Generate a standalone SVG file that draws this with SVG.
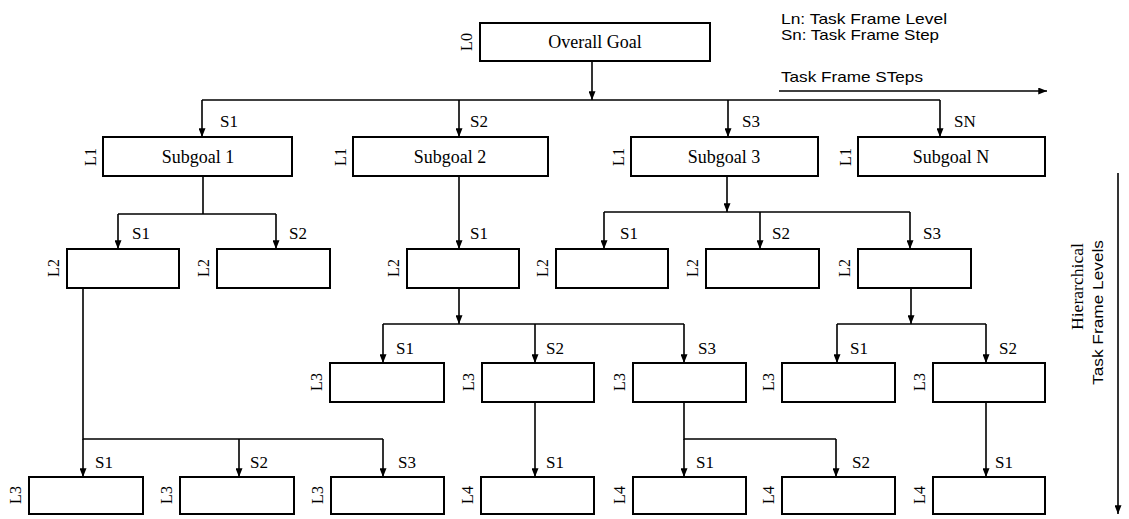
<svg xmlns="http://www.w3.org/2000/svg" width="1129" height="519" viewBox="0 0 1129 519">
<style>
.box{fill:#fff;stroke:#000;stroke-width:2}
.c{fill:none;stroke:#000;stroke-width:1.6}
.a{marker-end:url(#ah)}
.t{font-family:"Liberation Serif","Times New Roman",serif;font-size:18px;fill:#000;text-anchor:middle}
.s{font-family:"Liberation Serif","Times New Roman",serif;font-size:17px;fill:#000}
.l{font-family:"Liberation Serif","Times New Roman",serif;font-size:16px;fill:#000;text-anchor:middle}
.g{font-family:"Liberation Sans",Arial,sans-serif;font-size:15px;fill:#000}
</style>
<defs>
<marker id="ah" viewBox="0 0 10 8" refX="10" refY="4" markerWidth="9" markerHeight="7" markerUnits="userSpaceOnUse" orient="auto">
<path d="M0,0 L10,4 L0,8 z" fill="#000"/>
</marker>
</defs>
<rect width="1129" height="519" fill="#fff"/>

<g id="legend">
<text class="g" x="781" y="24" textLength="166" lengthAdjust="spacingAndGlyphs">Ln: Task Frame Level</text>
<text class="g" x="781" y="40" textLength="158" lengthAdjust="spacingAndGlyphs">Sn: Task Frame Step</text>
<text class="g" x="781" y="82" textLength="142" lengthAdjust="spacingAndGlyphs">Task Frame STeps</text>
<text class="s" transform="translate(1083,330) rotate(-90)" textLength="87" lengthAdjust="spacingAndGlyphs">Hierarchical</text>
<text class="g" transform="translate(1103,385) rotate(-90)" font-size="16" textLength="145" lengthAdjust="spacingAndGlyphs">Task Frame Levels</text>
</g>

<g id="connectors">
<path class="c a" d="M779,91 H1047"/>
<path class="c a" d="M1118,173 V514"/>
<path class="c a" d="M592,61 V100"/>
<path class="c" d="M202,100 H940"/>
<path class="c a" d="M202,100 V137"/>
<path class="c a" d="M459,100 V137"/>
<path class="c a" d="M728,100 V137"/>
<path class="c a" d="M940,100 V137"/>
<path class="c" d="M203,176 V214 M118,214 H276"/>
<path class="c a" d="M118,214 V249"/>
<path class="c a" d="M276,214 V249"/>
<path class="c a" d="M459,176 V249"/>
<path class="c a" d="M459,288 V324"/>
<path class="c" d="M383,324 H684"/>
<path class="c a" d="M383,324 V363"/>
<path class="c a" d="M535,324 V363"/>
<path class="c a" d="M684,324 V363"/>
<path class="c a" d="M727,176 V212"/>
<path class="c" d="M604,212 H910"/>
<path class="c a" d="M604,212 V249"/>
<path class="c a" d="M760,212 V249"/>
<path class="c a" d="M910,212 V249"/>
<path class="c a" d="M911,288 V324"/>
<path class="c" d="M837,324 H986"/>
<path class="c a" d="M837,324 V363"/>
<path class="c a" d="M986,324 V363"/>
<path class="c" d="M83,288 V439 H383"/>
<path class="c a" d="M83,439 V477"/>
<path class="c a" d="M239,439 V477"/>
<path class="c a" d="M383,439 V477"/>
<path class="c a" d="M535,402 V477"/>
<path class="c" d="M684,402 V439 H836"/>
<path class="c a" d="M684,439 V477"/>
<path class="c a" d="M836,439 V477"/>
<path class="c a" d="M986,402 V477"/>
</g>

<g id="step-labels">
<text class="s" x="220" y="127">S1</text>
<text class="s" x="470" y="127">S2</text>
<text class="s" x="742" y="127">S3</text>
<text class="s" x="954" y="127">SN</text>
<text class="s" x="132" y="239">S1</text>
<text class="s" x="289" y="239">S2</text>
<text class="s" x="470" y="239">S1</text>
<text class="s" x="620" y="239">S1</text>
<text class="s" x="772" y="239">S2</text>
<text class="s" x="923" y="239">S3</text>
<text class="s" x="396" y="354">S1</text>
<text class="s" x="546" y="354">S2</text>
<text class="s" x="698" y="354">S3</text>
<text class="s" x="850" y="354">S1</text>
<text class="s" x="999" y="354">S2</text>
<text class="s" x="95" y="468">S1</text>
<text class="s" x="250" y="468">S2</text>
<text class="s" x="398" y="468">S3</text>
<text class="s" x="546" y="468">S1</text>
<text class="s" x="696" y="468">S1</text>
<text class="s" x="852" y="468">S2</text>
<text class="s" x="995" y="468">S1</text>
</g>

<g id="n-overall"><rect class="box" x="480" y="23" width="230" height="38"/><text class="t" x="595" y="48">Overall Goal</text><text class="l" transform="translate(472,42) rotate(-90)">L0</text></g>

<g id="n-sub1"><rect class="box" x="103" y="137" width="189" height="39"/><text class="t" x="198" y="163">Subgoal 1</text><text class="l" transform="translate(96,157) rotate(-90)">L1</text></g>
<g id="n-sub2"><rect class="box" x="353" y="137" width="195" height="39"/><text class="t" x="450" y="163">Subgoal 2</text><text class="l" transform="translate(346,157) rotate(-90)">L1</text></g>
<g id="n-sub3"><rect class="box" x="631" y="137" width="187" height="39"/><text class="t" x="724" y="163">Subgoal 3</text><text class="l" transform="translate(624,157) rotate(-90)">L1</text></g>
<g id="n-subN"><rect class="box" x="858" y="137" width="187" height="39"/><text class="t" x="951" y="163">Subgoal N</text><text class="l" transform="translate(851,157) rotate(-90)">L1</text></g>

<g id="n-l2-1"><rect class="box" x="67" y="249" width="112" height="39"/><text class="l" transform="translate(59,268) rotate(-90)">L2</text></g>
<g id="n-l2-2"><rect class="box" x="217" y="249" width="113" height="39"/><text class="l" transform="translate(209,268) rotate(-90)">L2</text></g>
<g id="n-l2-3"><rect class="box" x="407" y="249" width="112" height="39"/><text class="l" transform="translate(399,268) rotate(-90)">L2</text></g>
<g id="n-l2-4"><rect class="box" x="556" y="249" width="112" height="39"/><text class="l" transform="translate(548,268) rotate(-90)">L2</text></g>
<g id="n-l2-5"><rect class="box" x="706" y="249" width="113" height="39"/><text class="l" transform="translate(698,268) rotate(-90)">L2</text></g>
<g id="n-l2-6"><rect class="box" x="858" y="249" width="113" height="39"/><text class="l" transform="translate(850,268) rotate(-90)">L2</text></g>

<g id="n-l3-1"><rect class="box" x="330" y="363" width="114" height="39"/><text class="l" transform="translate(322,382) rotate(-90)">L3</text></g>
<g id="n-l3-2"><rect class="box" x="482" y="363" width="112" height="39"/><text class="l" transform="translate(474,382) rotate(-90)">L3</text></g>
<g id="n-l3-3"><rect class="box" x="633" y="363" width="113" height="39"/><text class="l" transform="translate(625,382) rotate(-90)">L3</text></g>
<g id="n-l3-4"><rect class="box" x="782" y="363" width="113" height="39"/><text class="l" transform="translate(774,382) rotate(-90)">L3</text></g>
<g id="n-l3-5"><rect class="box" x="933" y="363" width="112" height="39"/><text class="l" transform="translate(925,382) rotate(-90)">L3</text></g>

<g id="n-b1"><rect class="box" x="29" y="477" width="114" height="37"/><text class="l" transform="translate(21,495) rotate(-90)">L3</text></g>
<g id="n-b2"><rect class="box" x="180" y="477" width="114" height="37"/><text class="l" transform="translate(172,495) rotate(-90)">L3</text></g>
<g id="n-b3"><rect class="box" x="331" y="477" width="113" height="37"/><text class="l" transform="translate(323,495) rotate(-90)">L3</text></g>
<g id="n-b4"><rect class="box" x="481" y="477" width="113" height="37"/><text class="l" transform="translate(473,495) rotate(-90)">L4</text></g>
<g id="n-b5"><rect class="box" x="633" y="477" width="113" height="37"/><text class="l" transform="translate(625,495) rotate(-90)">L4</text></g>
<g id="n-b6"><rect class="box" x="782" y="477" width="113" height="37"/><text class="l" transform="translate(774,495) rotate(-90)">L4</text></g>
<g id="n-b7"><rect class="box" x="933" y="477" width="112" height="37"/><text class="l" transform="translate(925,495) rotate(-90)">L4</text></g>
</svg>
